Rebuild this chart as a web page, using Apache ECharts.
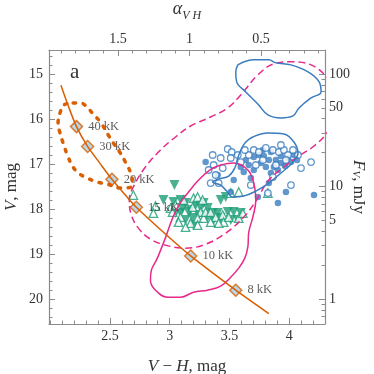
<!DOCTYPE html>
<html>
<head>
<meta charset="utf-8">
<style>
  html, body { margin: 0; padding: 0; background: #fff; }
  #chart { width: 374px; height: 374px; }
</style>
<script src="https://cdn.jsdelivr.net/npm/echarts@6/dist/echarts.min.js"></script>
</head>
<body>
<div id="chart"></div>
<script>
// blackbody track, [V-H, V]
const trackPts = [[2.09, 15.25], [2.15, 15.7], [2.22, 16.17], [2.313, 16.61], [2.415, 16.98],
  [2.517, 17.34], [2.62, 17.66], [2.721, 17.96], [2.95, 18.52], [3.176, 19.04], [3.553, 19.8], [3.83, 20.32]];
// temperature marks on the track
const tempLabels = ["40 kK", "30 kK", "20 kK", "15 kK", "10 kK", "8 kK"];
const tempVH = [2.22, 2.313, 2.517, 2.721, 3.176, 3.553];
const tempV = [16.17, 16.61, 17.34, 17.96, 19.04, 19.8];

// contours
const orangeDotted = [[2.192, 15.644], [2.25, 15.644], [2.309, 15.733], [2.351, 15.867], [2.419, 16.067],
  [2.486, 16.356], [2.528, 16.533], [2.587, 16.756], [2.629, 16.956], [2.671, 17.178], [2.687, 17.356],
  [2.679, 17.511], [2.587, 17.533], [2.477, 17.444], [2.393, 17.4], [2.309, 17.311], [2.234, 17.2],
  [2.192, 17.067], [2.15, 16.844], [2.108, 16.533], [2.082, 16.311], [2.066, 16.089], [2.082, 15.867],
  [2.116, 15.689], [2.192, 15.644]];
const pinkDashed = [[4.419, 15.356], [4.309, 15.044], [4.183, 14.8], [4.015, 14.733], [3.872, 14.778],
  [3.738, 15.022], [3.595, 15.467], [3.486, 15.756], [3.343, 15.956], [3.175, 16.156], [3.049, 16.4],
  [2.923, 16.689], [2.797, 17.067], [2.704, 17.467], [2.662, 17.8], [2.679, 18.133], [2.738, 18.422],
  [2.839, 18.667], [2.965, 18.8], [3.133, 18.867], [3.301, 18.778], [3.469, 18.533], [3.62, 18.178],
  [3.721, 17.822], [3.83, 17.356], [3.956, 17.067], [4.082, 16.822], [4.208, 16.6], [4.309, 16.333],
  [4.402, 15.911], [4.419, 15.356]];
const pinkSolid = [[3.427, 17.022], [3.536, 16.978], [3.654, 17.133], [3.704, 17.422], [3.721, 17.8],
  [3.696, 18.178], [3.662, 18.511], [3.654, 18.844], [3.629, 19.089], [3.578, 19.311], [3.511, 19.511],
  [3.427, 19.711], [3.318, 19.8], [3.2, 19.844], [3.091, 19.956], [2.982, 19.956], [2.881, 19.8],
  [2.839, 19.578], [2.847, 19.356], [2.889, 19.133], [2.931, 18.867], [2.973, 18.578], [3.024, 18.2],
  [3.082, 17.889], [3.158, 17.622], [3.242, 17.356], [3.335, 17.133], [3.427, 17.022]];
const blueUpper = [[3.57, 14.8], [3.704, 14.689], [3.83, 14.689], [3.889, 14.756], [4.015, 14.8],
  [4.158, 14.956], [4.251, 15.178], [4.267, 15.4], [4.183, 15.533], [4.082, 15.756], [4.032, 15.933],
  [3.931, 15.978], [3.822, 15.911], [3.738, 15.667], [3.637, 15.4], [3.561, 15.178], [3.553, 14.956],
  [3.57, 14.8]];
const blueMiddle = [[3.595, 16.689], [3.637, 16.511], [3.696, 16.4], [3.822, 16.311], [3.956, 16.333],
  [4.04, 16.511], [4.074, 16.756], [4.024, 16.978], [3.931, 17.2], [3.83, 17.422], [3.721, 17.6],
  [3.62, 17.711], [3.528, 17.733], [3.477, 17.6], [3.427, 17.467], [3.36, 17.4], [3.41, 17.333],
  [3.494, 17.267], [3.545, 17.089], [3.57, 16.867], [3.595, 16.689]];

// blue circles
const blueFilled = [[3.301, 16.956], [3.402, 17.244], [3.536, 17.356], [3.511, 17.622], [3.637, 16.911],
  [3.704, 16.844], [3.746, 16.8], [3.788, 16.822], [3.83, 16.911], [3.763, 16.978], [3.872, 17.067],
  [3.931, 16.978], [3.99, 16.867], [4.04, 16.8], [3.738, 17.733], [3.906, 17.867], [3.973, 17.622],
  [4.208, 17.689], [3.704, 17.133], [3.595, 17.067], [3.847, 17.2], [3.906, 17.133], [3.662, 17.022],
  [3.805, 17.067], [3.965, 17.044], [4.015, 16.956], [3.679, 17.311], [3.889, 16.911], [3.78, 16.689],
  [3.847, 16.733], [3.931, 16.822], [3.62, 17.178], [4.066, 16.911], [3.83, 17.422]];
const blueOpen = [[3.36, 16.8], [3.486, 16.667], [3.519, 16.733], [3.368, 17.022], [3.444, 17.089],
  [3.326, 17.133], [3.343, 17.422], [3.41, 17.422], [3.662, 16.8], [3.704, 16.689], [3.746, 16.733],
  [3.805, 16.644], [3.864, 16.689], [3.914, 16.733], [3.956, 16.689], [3.99, 16.8], [4.032, 16.689],
  [4.074, 16.8], [3.973, 16.911], [3.78, 16.911], [3.721, 17.022], [3.595, 16.956], [3.511, 16.867],
  [3.427, 16.867], [4.015, 17.467], [3.822, 17.644], [4.183, 16.956], [4.099, 17.089], [3.864, 17.289],
  [3.679, 17.467], [3.385, 17.244], [3.57, 16.8], [3.629, 16.689], [3.889, 17.022], [3.931, 16.578]];

// green triangles
const greenFilled = [[3.04, 17.467], [2.948, 17.8], [3.032, 17.844], [3.091, 17.8], [3.133, 17.867],
  [3.108, 17.978], [3.158, 18.067], [3.049, 18.089], [3.133, 18.244], [3.192, 18.2], [3.217, 17.911],
  [3.259, 17.978], [3.242, 18.133], [3.284, 17.867], [3.318, 17.978], [3.36, 18.089], [3.318, 18.178],
  [3.402, 18.089], [3.427, 17.8], [3.469, 17.733], [3.427, 18.2], [3.486, 18.067], [3.536, 18.067],
  [3.595, 18.089], [3.57, 18.244], [3.511, 18.244], [3.368, 18.244], [3.2, 18.356], [3.091, 18.089],
  [3.175, 18.022]];
const greenOpen = [[2.696, 17.689], [2.881, 17.933], [2.864, 18.089], [3.007, 17.978], [3.049, 17.911],
  [3.024, 18.067], [3.091, 18.178], [3.074, 18.289], [3.116, 17.8], [3.2, 17.756], [3.234, 17.733],
  [3.276, 17.8], [3.192, 17.956], [3.259, 18.067], [3.234, 18.2], [3.175, 18.311], [3.234, 18.356],
  [3.133, 18.4], [3.284, 18.2], [3.301, 18.067], [3.343, 18.067], [3.385, 18.178], [3.444, 18.133],
  [3.452, 18.289], [3.41, 18.311], [3.494, 18.178], [3.578, 18.2], [3.612, 18.089], [3.511, 17.644],
  [3.578, 17.622], [3.822, 17.644], [3.343, 18.289]];

// axis ticks
const vhTicks = [2.5, 3, 3.5, 4];
const vTicks = [15, 16, 17, 18, 19, 20];
const alphaTicks = [0.5, 1, 1.5];
const fluxLabels = [1, 5, 10, 50, 100];
const fluxMajor = [1, 10, 100];
const fluxMinor = [0.7, 0.8, 0.9, 2, 3, 4, 5, 6, 7, 8, 9, 20, 30, 40, 50, 60, 70, 80, 90];

const FONT = "Liberation Serif";
const AX = "#8c8c8c";
const TXT = "#333";

// V magnitude <-> flux in mJy (100 mJy at V = 15)
const fluxToV = f => 20 - 2.5 * Math.log10(f);
const vToFlux = v => Math.pow(10, (20 - v) / 2.5);

function range(a, b, step, skip) {
  const out = [];
  for (let v = a; v <= b + 1e-9; v += step) {
    const r = Math.round(v * 100) / 100;
    if (!skip.some(s => Math.abs(s - r) < 1e-6)) out.push(r);
  }
  return out;
}

const chart = echarts.init(document.getElementById("chart"));

function tickAxis(base, ticks, len, labels, extra) {
  return Object.assign({
    type: "value",
    axisLine: { show: false },
    splitLine: { show: false },
    axisTick: { show: true, inside: true, length: len, customValues: ticks, lineStyle: { color: AX, width: 1 } },
    axisLabel: labels
      ? { show: true, customValues: labels, color: TXT, fontFamily: FONT, fontSize: 14 }
      : { show: false }
  }, base, extra || {});
}

const xRange = { min: 1.99, max: 4.3 };
const aRange = { min: 0.052, max: 1.983, inverse: true };
const yRange = { min: 14.47, max: 20.55, inverse: true };

const option = {
  animation: false,
  grid: { left: 49, right: 49, top: 50, bottom: 50, outerBoundsMode: "none", containLabel: false },
  xAxis: [
    tickAxis(Object.assign({ position: "bottom" }, xRange), vhTicks, 6, vhTicks, {
      axisLine: { show: true, lineStyle: { color: AX, width: 1.2 } },
      name: "{i|V} − {i|H}, mag",
      nameLocation: "middle",
      nameGap: 34,
      nameTextStyle: { fontFamily: FONT, fontSize: 17, color: TXT,
        rich: { i: { fontStyle: "italic", fontFamily: FONT, fontSize: 17, color: TXT } } },
      axisLabel: { show: true, customValues: vhTicks, color: TXT, fontFamily: FONT, fontSize: 14, margin: 5 }
    }),
    tickAxis(Object.assign({ position: "bottom" }, xRange), range(2.0, 4.3, 0.1, vhTicks), 3.5, null),
    tickAxis(Object.assign({ position: "top" }, aRange), alphaTicks, 6, alphaTicks, {
      axisLine: { show: true, lineStyle: { color: AX, width: 1.2 } },
      name: "{a|α}{s|V H}",
      nameLocation: "middle",
      nameGap: 28,
      nameTextStyle: { fontFamily: FONT, fontSize: 17, color: TXT,
        rich: {
          a: { fontStyle: "italic", fontFamily: FONT, fontSize: 18, color: TXT, lineHeight: 22, verticalAlign: "top" },
          s: { fontStyle: "italic", fontFamily: FONT, fontSize: 12, color: TXT, lineHeight: 22, verticalAlign: "bottom" }
        } },
      axisLabel: { show: true, customValues: alphaTicks, color: TXT, fontFamily: FONT, fontSize: 14, margin: 4 }
    }),
    tickAxis(Object.assign({ position: "top" }, aRange), range(0.1, 1.9, 0.1, alphaTicks), 3.5, null)
  ],
  yAxis: [
    tickAxis(Object.assign({ position: "left" }, yRange), vTicks, 6, vTicks, {
      axisLine: { show: true, lineStyle: { color: AX, width: 1.2 } },
      name: "{i|V}, mag",
      nameLocation: "middle",
      nameGap: 29,
      nameRotate: 90,
      nameMoveOverlap: false,
      nameTextStyle: { fontFamily: FONT, fontSize: 17, color: TXT,
        rich: { i: { fontStyle: "italic", fontFamily: FONT, fontSize: 17, color: TXT } } },
      axisLabel: { show: true, customValues: vTicks, color: TXT, fontFamily: FONT, fontSize: 14, margin: 6 }
    }),
    tickAxis(Object.assign({ position: "left" }, yRange), range(14.6, 20.4, 0.2, vTicks), 3.5, null),
    tickAxis(Object.assign({ position: "right" }, yRange), fluxMajor.map(fluxToV), 6, null, {
      axisLine: { show: true, lineStyle: { color: AX, width: 1.2 } },
      name: "{i|F}{s|V}, mJy",
      nameLocation: "middle",
      nameGap: 25,
      nameRotate: -90,
      nameMoveOverlap: false,
      nameTextStyle: { fontFamily: FONT, fontSize: 17, color: TXT,
        rich: {
          i: { fontStyle: "italic", fontFamily: FONT, fontSize: 17, color: TXT },
          s: { fontStyle: "italic", fontFamily: FONT, fontSize: 11, color: TXT, padding: [6, 0, 0, 0] }
        } },
      axisLabel: { show: true, customValues: fluxLabels.map(fluxToV), color: TXT, fontFamily: FONT,
        fontSize: 14, margin: 4, formatter: v => String(Math.round(vToFlux(v))) }
    }),
    tickAxis(Object.assign({ position: "right" }, yRange), fluxMinor.map(fluxToV), 3.5, null)
  ],
  graphic: [
    { type: "text", x: 70, y: 62, style: { text: "a", font: "21px " + FONT, fill: TXT } }
  ],
  series: [
    { type: "scatter", data: greenFilled, symbol: "triangle", symbolRotate: 180, symbolSize: 10,
      itemStyle: { color: "#1b9e77" } },
    { type: "scatter", data: greenOpen, symbol: "triangle", symbolSize: 8.5,
      itemStyle: { color: "#fff", borderColor: "#1b9e77", borderWidth: 1.3 } },
    { type: "scatter", data: blueFilled, symbol: "circle", symbolSize: 6.5,
      itemStyle: { color: "#3a7dbf" } },
    { type: "scatter", data: blueOpen, symbol: "circle", symbolSize: 6.5,
      itemStyle: { color: "#fff", borderColor: "#3a7dbf", borderWidth: 1.3 } },
    { type: "line", data: pinkDashed, smooth: 0.4, symbol: "none",
      lineStyle: { color: "#e7298a", width: 1.5, type: [7, 4] } },
    { type: "line", data: pinkSolid, smooth: 0.4, symbol: "none",
      lineStyle: { color: "#e7298a", width: 1.5 } },
    { type: "line", data: blueUpper, smooth: 0.4, symbol: "none",
      lineStyle: { color: "#3a7dbf", width: 1.5 } },
    { type: "line", data: blueMiddle, smooth: 0.4, symbol: "none",
      lineStyle: { color: "#3a7dbf", width: 1.5 } },
    { type: "line", data: orangeDotted, smooth: 0.4, symbol: "none",
      lineStyle: { color: "#d95f02", width: 3.5, type: [2.5, 7.5], cap: "round" } },
    { type: "line", data: trackPts, smooth: 0.3, symbol: "none",
      lineStyle: { color: "#d95f02", width: 1.5 } },
    { type: "scatter", symbol: "diamond", symbolSize: 12,
      data: tempVH.map((x, i) => ({ value: [x, tempV[i]], name: tempLabels[i] })),
      itemStyle: { color: "#a6cee3", borderColor: "#d95f02", borderWidth: 1.5 },
      label: { show: true, position: "right", distance: 5, formatter: p => p.name,
        fontFamily: FONT, fontSize: 12.5, color: TXT } }
  ]
};

chart.setOption(option);
</script>
</body>
</html>
